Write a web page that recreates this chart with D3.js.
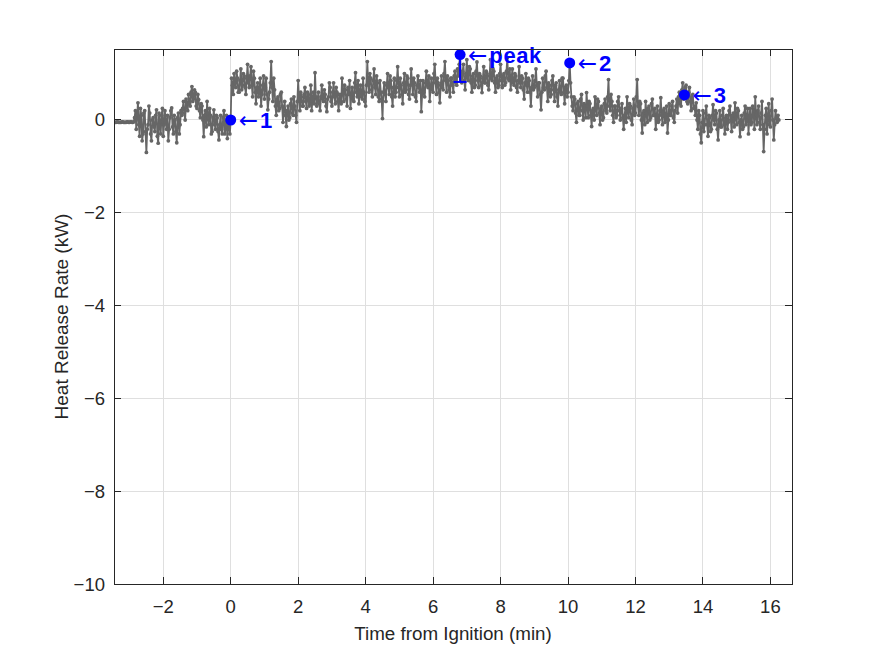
<!DOCTYPE html>
<html>
<head>
<meta charset="utf-8">
<script src="https://cdn.jsdelivr.net/npm/d3@7"></script>
<style>
  html, body { margin: 0; padding: 0; background: #ffffff; }
  svg { display: block; }
</style>
</head>
<body>
<svg id="chart" width="875" height="656"></svg>
<script>
// ---------------- DATA ----------------
const timeStart = -3.45;   // min
const timeStep = 0.025;    // min (1.5 s sampling)
const hrrValues = [
  -0.05,-0.05,-0.05,-0.04,-0.04,-0.05,-0.05,-0.05,-0.05,-0.04,-0.04,-0.05,-0.05,-0.05,-0.05,-0.04,-0.04,-0.05,-0.05,-0.04,-0.04,-0.05,-0.05,-0.04,
  0.05,0.2,-0.2,0.1,0.37,-0.1,-0.35,0.25,0.1,-0.45,-0.3,0.15,0.2,-0.25,-0.7,-0.2,
  -0.1,0.3,0.15,-0.3,-0.45,0.0,0.05,-0.15,-0.25,0.1,0.22,-0.35,-0.5,0.15,-0.05,-0.3,0.1,0.25,-0.35,-0.1,
  0.2,-0.05,-0.2,0.1,-0.45,-0.2,0.05,0.2,0.26,-0.15,-0.3,0.1,0.0,-0.25,-0.49,0.05,0.15,-0.3,-0.1,0.2,
  0.1,0.25,0.4,0.15,0.0,0.45,0.35,0.2,0.55,0.35,0.3,0.6,0.72,0.4,0.45,0.65,0.6,0.3,0.25,0.55,
  0.44,0.2,0.05,0.35,0.3,0.0,-0.36,0.1,0.2,-0.15,0.4,0.05,-0.1,0.25,0.1,-0.3,-0.25,0.05,0.22,-0.1,
  -0.2,0.1,0.05,-0.25,-0.43,-0.1,0.1,-0.2,-0.3,0.05,0.2,-0.3,-0.15,0.1,-0.4,-0.05,-0.1,-0.3,0.0,0.9,
  0.75,0.55,1.0,0.8,0.7,1.05,0.9,0.6,0.6,0.85,1.1,0.65,0.75,1.0,0.95,0.7,0.55,0.9,1.2,0.8,
  0.7,0.95,1.15,0.75,0.5,1.05,0.9,0.6,0.35,0.7,0.8,0.5,0.6,0.9,0.3,0.55,0.75,0.95,0.45,0.7,
  0.9,0.55,0.22,0.45,0.6,0.8,1.26,0.7,0.4,0.9,0.65,0.3,0.1,0.45,0.5,0.2,0.25,0.55,0.6,0.3,
  -0.05,0.25,0.4,0.1,-0.14,0.2,0.3,0.0,0.05,0.35,0.45,0.15,0.1,0.5,0.3,0.1,-0.05,0.4,0.85,0.45,
  0.2,0.6,0.5,0.3,0.3,0.55,0.7,0.4,0.25,0.6,0.55,0.3,0.35,0.75,0.2,0.45,0.6,0.35,1.02,0.5,
  0.3,0.45,0.6,0.35,0.2,0.5,0.75,0.45,0.4,0.65,0.55,0.3,0.18,0.45,0.5,0.8,0.7,0.4,0.3,0.6,
  0.8,0.5,0.35,0.7,0.6,0.4,0.2,0.55,0.5,0.35,0.9,0.6,0.4,0.75,0.65,0.45,0.3,0.7,0.55,0.85,
  0.25,0.5,0.7,0.45,0.4,0.8,1.02,0.6,0.5,0.85,0.35,0.6,0.75,0.5,0.45,0.9,0.6,0.4,0.3,0.75,
  1.26,0.8,0.6,1.0,0.9,0.65,0.5,0.85,1.1,0.7,0.55,0.95,0.8,0.5,0.4,0.85,0.6,0.45,0.03,0.6,
  0.8,0.55,0.4,0.75,1.0,0.7,0.55,0.95,0.85,0.5,0.3,0.7,0.9,0.5,0.6,0.85,1.15,0.7,0.5,0.9,
  0.75,0.55,0.35,0.8,1.0,0.6,0.65,0.95,0.9,0.55,0.45,0.75,1.1,0.8,0.55,0.9,0.8,0.5,0.4,0.75,
  0.95,0.7,0.6,0.85,0.18,0.55,0.85,0.6,0.5,0.8,1.05,0.75,0.7,0.95,0.4,0.7,0.9,0.65,0.6,1.0,
  1.2,0.8,0.55,0.9,0.8,0.6,0.37,0.75,0.95,0.7,0.65,1.0,1.26,0.85,0.6,0.95,0.85,0.65,0.5,0.9,
  0.9,0.75,0.6,0.95,1.05,0.8,0.75,1.1,0.95,1.2,1.41,0.9,0.8,1.05,1.2,0.85,0.65,1.0,1.3,0.9,
  0.85,1.15,1.1,0.8,0.6,0.95,1.0,0.7,0.75,1.05,1.25,0.85,0.7,1.0,0.95,0.75,0.59,0.9,1.15,0.8,
  0.8,1.05,1.0,0.75,0.65,0.95,1.3,0.9,0.85,1.1,1.05,0.8,0.6,0.9,0.95,0.7,0.75,1.0,1.2,0.85,
  0.7,0.95,1.0,0.75,0.8,1.05,1.34,0.9,0.85,1.1,0.65,0.9,1.1,0.8,0.75,1.0,0.95,0.7,0.6,0.85,
  1.15,0.8,0.7,0.95,0.9,0.65,0.45,0.8,1.0,0.75,0.6,0.9,0.85,0.6,0.3,0.7,0.95,0.65,0.7,0.85,
  1.1,0.75,0.5,0.8,0.8,0.55,0.22,0.6,0.9,0.7,0.65,0.95,1.05,0.7,0.4,0.8,0.75,0.5,0.55,0.85,
  0.95,0.65,0.4,0.75,0.8,0.5,0.3,0.65,0.85,0.6,0.55,0.9,0.9,0.6,0.35,0.7,0.75,0.5,0.6,0.85,
  1.23,0.8,0.5,0.3,0.2,0.5,0.45,0.15,-0.05,0.35,0.4,0.1,0.1,0.45,0.55,0.2,0.0,0.35,0.3,0.05,
  0.59,0.3,0.05,0.4,0.35,0.1,-0.14,0.2,0.25,0.0,0.5,0.25,0.1,0.45,0.4,0.15,-0.1,0.25,0.3,0.0,
  0.05,0.35,0.45,0.2,0.15,0.5,0.87,0.3,0.2,0.55,0.4,0.1,-0.05,0.3,0.3,0.05,0.1,0.4,0.5,0.2,
  0.0,0.25,0.35,0.05,-0.2,0.1,0.25,-0.05,0.5,0.2,0.05,0.35,0.3,0.0,-0.1,0.25,0.45,0.1,0.15,0.5,
  0.87,0.3,0.1,0.4,0.35,0.0,-0.28,0.15,0.2,-0.1,0.4,0.15,-0.05,0.25,0.3,0.0,0.05,0.35,0.45,0.1,
  0.1,0.25,-0.2,0.05,0.3,-0.05,0.0,0.2,0.48,0.1,-0.1,0.2,0.25,-0.05,0.05,0.3,-0.28,0.0,0.35,0.1,
  0.1,0.3,0.4,0.05,-0.05,0.2,0.3,0.45,0.15,0.5,0.6,0.35,0.3,0.65,0.8,0.45,0.54,0.7,0.75,0.4,
  0.35,0.6,0.7,0.4,0.2,0.5,0.55,0.25,0.3,0.1,0.37,0.0,-0.2,0.2,0.1,-0.3,-0.49,-0.05,0.2,-0.25,
  -0.1,0.15,0.3,-0.1,-0.35,0.1,0.05,-0.25,-0.2,0.1,0.33,0.0,-0.1,0.2,0.15,-0.2,-0.43,0.0,0.2,-0.15,
  -0.15,0.1,0.25,-0.1,-0.3,0.05,0.1,-0.2,-0.05,0.2,0.3,0.0,-0.25,0.1,0.15,-0.15,0.37,0.05,-0.1,0.25,
  0.2,-0.05,-0.36,0.0,0.1,-0.2,-0.15,0.15,0.3,-0.1,0.0,0.25,-0.3,0.05,0.25,-0.1,-0.05,0.3,0.2,-0.2,
  0.5,0.1,-0.1,0.2,0.3,-0.05,-0.2,0.15,0.4,-0.1,-0.68,-0.2,0.1,0.25,-0.3,0.05,0.35,-0.1,-0.15,0.2,
  0.45,0.0,-0.43,-0.1,0.2,0.05,-0.05,0.1,0.0
];

const annotTimes  = [0, 6.8, 10.05, 13.45];
const annotValues = [0, 1.41, 1.23, 0.54];
const annotLabels = ["1", "peak", "2", "3"];
const peakError = 0.59;

const xTicks = [-2, 0, 2, 4, 6, 8, 10, 12, 14, 16];
const yTicks = [-10, -8, -6, -4, -2, 0];
const xDomain = [-3.46, 16.64];
const yDomain = [-10, 1.53];
const xLabel = "Time from Ignition (min)";
const yLabel = "Heat Release Rate (kW)";

// ---------------- LAYOUT ----------------
const W = 875, H = 656;
const mLeft = 114, mRight = 792, mTop = 49, mBottom = 584;
const font = "'Liberation Sans', Arial, Helvetica, sans-serif";
const axisColor = "#262626";
const gridColor = "#dfdfdf";
const lineColor = "#666666";
const blue = "#0000ff";
const fmtTick = d => (d < 0 ? "\u2212" + Math.abs(d) : String(d));

const svg = d3.select("#chart");
svg.append("rect").attr("width", W).attr("height", H).attr("fill", "#fff");

const x = d3.scaleLinear().domain(xDomain).range([mLeft, mRight]);
const y = d3.scaleLinear().domain(yDomain).range([mBottom, mTop]);

const data = hrrValues.map((v, i) => ({ t: timeStart + i * timeStep, v }));

svg.append("defs").append("clipPath").attr("id", "clip")
  .append("rect").attr("x", mLeft).attr("y", mTop).attr("width", mRight - mLeft).attr("height", mBottom - mTop);

// grid
const grid = svg.append("g");
grid.selectAll(".gx").data(xTicks).join("line")
  .attr("x1", d => x(d)).attr("x2", d => x(d)).attr("y1", mTop).attr("y2", mBottom)
  .attr("stroke", gridColor).attr("stroke-width", 1).attr("shape-rendering", "crispEdges");
grid.selectAll(".gy").data(yTicks).join("line")
  .attr("y1", d => y(d)).attr("y2", d => y(d)).attr("x1", mLeft).attr("x2", mRight)
  .attr("stroke", gridColor).attr("stroke-width", 1).attr("shape-rendering", "crispEdges");

// data
const plot = svg.append("g").attr("clip-path", "url(#clip)");
plot.append("path").datum(data)
  .attr("d", d3.line().x(d => x(d.t)).y(d => y(d.v)))
  .attr("fill", "none").attr("stroke", lineColor).attr("stroke-width", 1.8)
  .attr("stroke-linejoin", "round");
plot.selectAll(".pt").data(data).join("circle")
  .attr("cx", d => x(d.t)).attr("cy", d => y(d.v)).attr("r", 1.9)
  .attr("fill", lineColor);

// error bar at peak
const pkT = annotTimes[1], pkV = annotValues[1];
plot.append("line")
  .attr("x1", x(pkT)).attr("x2", x(pkT))
  .attr("y1", y(pkV - peakError)).attr("y2", y(pkV + peakError))
  .attr("stroke", blue).attr("stroke-width", 2);
[pkV - peakError, pkV + peakError].forEach(v => {
  plot.append("line")
    .attr("x1", x(pkT) - 6.5).attr("x2", x(pkT) + 6.5)
    .attr("y1", y(v)).attr("y2", y(v))
    .attr("stroke", blue).attr("stroke-width", 2);
});

// annotation markers
const ann = annotTimes.map((t, i) => ({ t, v: annotValues[i], label: annotLabels[i] }));
svg.selectAll(".am").data(ann).join("circle")
  .attr("cx", d => x(d.t)).attr("cy", d => y(d.v)).attr("r", 5.5)
  .attr("fill", blue);

const labels = svg.selectAll(".al").data(ann).join("text")
  .attr("x", d => x(d.t) + 8).attr("y", d => y(d.v))
  .attr("dominant-baseline", "central")
  .attr("fill", blue).attr("font-family", font).attr("font-size", 22);
labels.append("tspan").attr("font-family", "'DejaVu Sans', sans-serif")
  .attr("font-weight", "normal").attr("font-size", 23).text("\u2190");
labels.append("tspan").attr("font-weight", "bold").attr("dx", 2)
  .attr("letter-spacing", 0.6).text(d => d.label);

// axes box
svg.append("rect").attr("x", mLeft).attr("y", mTop).attr("width", mRight - mLeft).attr("height", mBottom - mTop)
  .attr("fill", "none").attr("stroke", axisColor).attr("stroke-width", 1).attr("shape-rendering", "crispEdges");

// ticks (inward, both sides)
const tl = 7;
const tk = svg.append("g").attr("stroke", axisColor).attr("stroke-width", 1).attr("shape-rendering", "crispEdges");
xTicks.forEach(t => {
  tk.append("line").attr("x1", x(t)).attr("x2", x(t)).attr("y1", mBottom).attr("y2", mBottom - tl);
  tk.append("line").attr("x1", x(t)).attr("x2", x(t)).attr("y1", mTop).attr("y2", mTop + tl);
});
yTicks.forEach(t => {
  tk.append("line").attr("y1", y(t)).attr("y2", y(t)).attr("x1", mLeft).attr("x2", mLeft + tl);
  tk.append("line").attr("y1", y(t)).attr("y2", y(t)).attr("x1", mRight).attr("x2", mRight - tl);
});

// tick labels
svg.selectAll(".xtl").data(xTicks).join("text")
  .attr("x", d => x(d)).attr("y", 613)
  .attr("text-anchor", "middle").attr("font-family", font).attr("font-size", 18.5)
  .attr("fill", axisColor).text(fmtTick);
svg.selectAll(".ytl").data(yTicks).join("text")
  .attr("x", mLeft - 9).attr("y", d => y(d))
  .attr("text-anchor", "end").attr("dominant-baseline", "central")
  .attr("font-family", font).attr("font-size", 18.5)
  .attr("fill", axisColor).text(fmtTick);

// axis labels
svg.append("text").attr("x", (mLeft + mRight) / 2).attr("y", 640)
  .attr("text-anchor", "middle").attr("font-family", font).attr("font-size", 18.8)
  .attr("fill", axisColor).text(xLabel);
svg.append("text")
  .attr("transform", `translate(68,${(mTop + mBottom) / 2}) rotate(-90)`)
  .attr("text-anchor", "middle").attr("font-family", font).attr("font-size", 19)
  .attr("fill", axisColor).text(yLabel);
</script>
</body>
</html>
